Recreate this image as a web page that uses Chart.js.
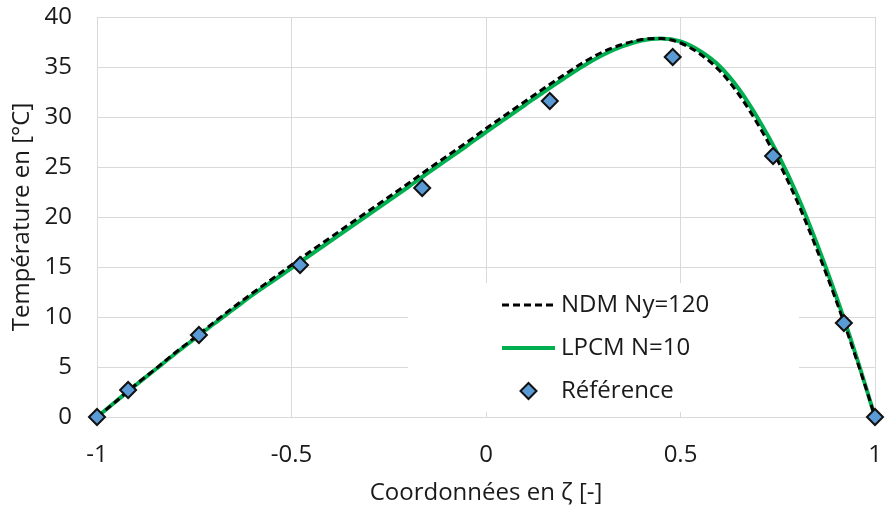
<!DOCTYPE html>
<html>
<head>
<meta charset="utf-8">
<script src="https://cdn.jsdelivr.net/npm/chart.js@4.4.1/dist/chart.umd.min.js"></script>
<style>
  body { margin: 0; background: #fff; }
</style>
</head>
<body>
<canvas id="myChart" width="885" height="513"></canvas>
<script>
// abscissa of the two computed profiles
const curveX = [-1, -0.95, -0.9, -0.85, -0.8, -0.75, -0.7, -0.65, -0.6, -0.55, -0.5,
  -0.45, -0.4, -0.35, -0.3, -0.25, -0.2, -0.15, -0.1, -0.05, 0,
  0.05, 0.1, 0.15, 0.2, 0.25, 0.3, 0.35, 0.4, 0.45, 0.5,
  0.55, 0.6, 0.65, 0.7, 0.75, 0.8, 0.85, 0.9, 0.95, 0.975, 1]

const ndmY = [0, 1.6, 3.25, 4.8, 6.4, 7.9, 9.45, 10.95, 12.4, 13.8, 15.2,
  16.6, 17.95, 19.3, 20.65, 22.0, 23.35, 24.75, 26.1, 27.45, 28.85,
  30.2, 31.55, 32.9, 34.2, 35.45, 36.5, 37.25, 37.75, 37.85, 37.4,
  36.3, 34.65, 32.25, 29.2, 25.65, 21.55, 16.8, 11.65, 6.05, 3.1, 0]

const lpcmY = [0, 1.6, 3.2, 4.75, 6.3, 7.8, 9.3, 10.75, 12.2, 13.55, 14.9,
  16.25, 17.6, 18.95, 20.3, 21.65, 23.0, 24.4, 25.75, 27.1, 28.5,
  29.85, 31.2, 32.55, 33.85, 35.1, 36.2, 37.05, 37.65, 37.85, 37.55,
  36.6, 35.1, 32.8, 29.8, 26.3, 22.2, 17.4, 12.1, 6.3, 3.2, 0]

const refX = [-1, -0.92, -0.738, -0.478, -0.164, 0.164, 0.48, 0.738, 0.92, 1]
const refY = [0, 2.7, 8.2, 15.2, 22.9, 31.6, 36.0, 26.1, 9.4, 0]

const labels = ['NDM Ny=120', 'LPCM N=10', 'Référence']

const FONT = 'Open Sans'
const TEXT = '#1a1a1a'
const GREEN = '#00b050'
const BLUE = '#5b9bd5'
const GRID = '#d9d9d9'

function toPoints(xs, ys) {
  return xs.map((x, i) => ({ x: x, y: ys[i] }))
}

// keep the plot area fixed: no extra room for the end tick labels
function fixBox(size) {
  return s => {
    if (s.isHorizontal()) s.height = size
    else s.width = size
    s.paddingTop = 0
    s.paddingBottom = 0
    s.paddingLeft = 0
    s.paddingRight = 0
  }
}

// legend drawn inside the plot, on a white box over the grid
const insideLegend = {
  id: 'insideLegend',
  beforeDatasetsDraw(chart) {
    const ctx = chart.ctx
    const a = chart.chartArea
    const left = a.left + 311, top = a.top + 266
    ctx.save()
    ctx.fillStyle = '#fff'
    ctx.fillRect(left, top, 391, 129)

    const x0 = left + 94, x1 = left + 147, tx = left + 153
    const rows = [top + 22, top + 65, top + 108]
    ctx.lineWidth = 3
    ctx.strokeStyle = '#000'
    ctx.setLineDash([7, 4])
    ctx.beginPath(); ctx.moveTo(x0, rows[0]); ctx.lineTo(x1, rows[0]); ctx.stroke()
    ctx.setLineDash([])
    ctx.lineWidth = 4
    ctx.strokeStyle = GREEN
    ctx.beginPath(); ctx.moveTo(x0, rows[1]); ctx.lineTo(x1, rows[1]); ctx.stroke()

    const cx = (x0 + x1) / 2, cy = rows[2], r = 8
    ctx.beginPath()
    ctx.moveTo(cx, cy - r); ctx.lineTo(cx + r, cy); ctx.lineTo(cx, cy + r); ctx.lineTo(cx - r, cy)
    ctx.closePath()
    ctx.fillStyle = BLUE
    ctx.fill()
    ctx.lineWidth = 2
    ctx.strokeStyle = '#111'
    ctx.stroke()

    ctx.fillStyle = TEXT
    ctx.font = '24px "' + FONT + '"'
    ctx.textBaseline = 'middle'
    ctx.textAlign = 'left'
    labels.forEach((t, i) => ctx.fillText(t, tx, rows[i]))
    ctx.restore()
  }
}

Chart.defaults.font.family = FONT
Chart.defaults.font.size = 24
Chart.defaults.color = TEXT

new Chart(document.getElementById('myChart').getContext('2d'), {
  type: 'scatter',
  data: {
    datasets: [
      {
        label: labels[2],
        data: toPoints(refX, refY),
        pointStyle: 'rectRot',
        pointRadius: 8,
        pointBackgroundColor: BLUE,
        pointBorderColor: '#111',
        pointBorderWidth: 2,
        showLine: false,
        clip: false
      },
      {
        label: labels[0],
        data: toPoints(curveX, ndmY),
        showLine: true,
        borderColor: '#000',
        borderWidth: 3,
        borderDash: [7, 4],
        pointRadius: 0,
        cubicInterpolationMode: 'monotone'
      },
      {
        label: labels[1],
        data: toPoints(curveX, lpcmY),
        showLine: true,
        borderColor: GREEN,
        borderWidth: 4,
        pointRadius: 0,
        cubicInterpolationMode: 'monotone'
      }
    ]
  },
  options: {
    responsive: false,
    animation: false,
    devicePixelRatio: 1,
    layout: { padding: { top: 17, right: 8, left: 0, bottom: 0 } },
    plugins: {
      legend: { display: false },
      tooltip: { enabled: false }
    },
    scales: {
      x: {
        type: 'linear',
        min: -1,
        max: 1,
        afterFit: fixBox(96),
        ticks: { stepSize: 0.5, padding: 24, color: TEXT, callback: v => String(v) },
        grid: { color: GRID, drawTicks: false },
        border: { color: GRID },
        title: {
          display: true,
          text: 'Coordonnées en ζ [-]',
          color: TEXT,
          padding: { top: 0, bottom: 5 }
        }
      },
      y: {
        min: 0,
        max: 40,
        afterFit: fixBox(97),
        ticks: { stepSize: 5, padding: 25, color: TEXT },
        grid: { color: GRID, drawTicks: false },
        border: { color: GRID },
        title: {
          display: true,
          text: 'Température en [°C]',
          color: TEXT,
          padding: { top: 8, bottom: 0 }
        }
      }
    }
  },
  plugins: [insideLegend]
})
</script>
</body>
</html>
